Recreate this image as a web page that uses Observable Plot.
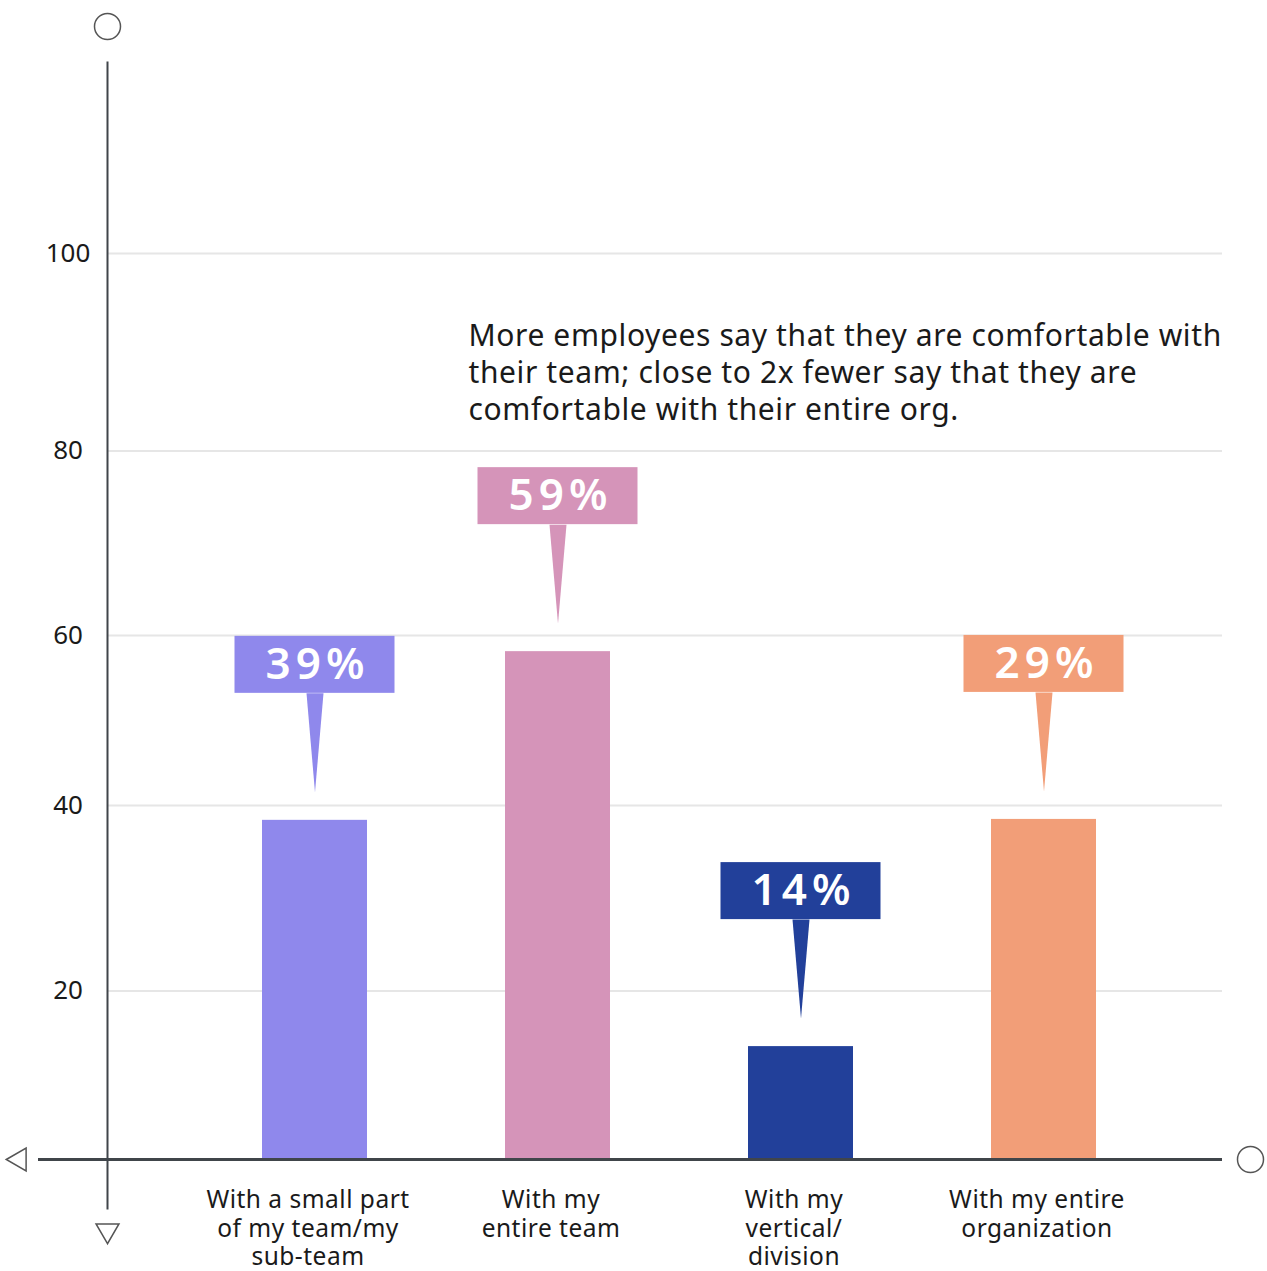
<!DOCTYPE html>
<html>
<head>
<meta charset="utf-8">
<script src="https://cdn.jsdelivr.net/npm/d3@7"></script>
<script src="https://cdn.jsdelivr.net/npm/@observablehq/plot@0.6"></script>
<style>
  html, body { margin: 0; padding: 0; background: #fff; }
</style>
</head>
<body>
<div id="chart"></div>
<script>
// ---- data ----
const categories = [
  "With a small part\nof my team/my\nsub-team",
  "With my\nentire team",
  "With my\nvertical/\ndivision",
  "With my entire\norganization"
];
const barValues = [38.4, 58.1, 13.4, 38.5];
const calloutLabels = ["39%", "59%", "14%", "29%"];
const barColors = ["#8f88ec", "#d594b9", "#22409a", "#f29e78"];
const yTicks = [20, 40, 60, 80, 100];
// uneven spacing of the value axis as drawn (distance above baseline for 0,20,...,100)
const axisStops = [0, 20, 40, 60, 80, 100];
const axisOffsets = [0, 168.5, 354, 524, 708.5, 906];
const annotation = "More employees say that they are comfortable with\ntheir team; close to 2x fewer say that they are\ncomfortable with their entire org.";

const data = categories.map((c, i) => ({cat: c, value: barValues[i], label: calloutLabels[i], color: barColors[i]}));

const warp = d3.scaleLinear().domain(axisStops).range(axisOffsets);

const axisColor = "#40454a";
const font = "'Noto Sans', sans-serif";

const chart = Plot.plot({
  width: 1267,
  height: 1271,
  marginLeft: 107,
  marginRight: 45,
  marginTop: 62,
  marginBottom: 63,
  style: {fontFamily: font, background: "#fff", color: "#1a1a1a"},
  x: {axis: null, domain: categories, range: [107, 1222], paddingInner: 0.5684, paddingOuter: 0.5756, align: 0.55},
  y: {axis: null, transform: warp, domain: [0, 906], range: [1159, 253]},
  color: {type: "identity"},
  marks: [
    // gridlines
    Plot.ruleY(yTicks, {stroke: "#e6e6e6", strokeWidth: 2}),
    // y tick labels (text mark #0)
    Plot.text(yTicks, {y: d => d, text: d => String(d), frameAnchor: "left", dx: -39.5, textAnchor: "middle", fontSize: 26, fill: "#1a1a1a"}),
    // bars
    Plot.barY(data, {x: "cat", y: "value", fill: "color"}),
    // callout boxes
    Plot.barY(data, {x: "cat", y1: "value", y2: "value", fill: "color", insetTop: -184, insetBottom: 127, insetLeft: -27.5, insetRight: -27.5}),
    // callout pointers
    Plot.vector(data, {x: "cat", y: "value", dy: -127, length: 99, rotate: 180, shape: "spike", r: 8.5, fill: "color", stroke: "none", anchor: "start"}),
    // callout labels (text mark #1)
    Plot.text(data, {x: "cat", y: "value", dy: -155.5, dx: 2.5, text: "label", fill: "#fff", fontSize: 44, fontWeight: 600}),
    // category labels (text mark #2)
    Plot.text(data, {x: "cat", y: () => 0, text: "cat", dy: 28, dx: -7, lineAnchor: "top", lineHeight: 1.17, fontSize: 24.5, fill: "#1a1a1a"}),
    // annotation (text mark #3)
    Plot.text([annotation], {frameAnchor: "top-left", text: d => d, dx: 361, dy: 257, textAnchor: "start", lineAnchor: "top", fontSize: 30, lineHeight: 1.235, fill: "#1a1a1a"}),
    // y axis line
    Plot.frame({anchor: "left", stroke: axisColor, strokeWidth: 2}),
    // x axis line
    Plot.ruleY([0], {stroke: axisColor, strokeWidth: 3, insetLeft: -69}),
    // axis end symbols
    Plot.dot([0], {frameAnchor: "top-left", dy: -36, r: 13, stroke: "#555", strokeWidth: 1.5, fill: "none"}),
    Plot.dot([0], {y: d => d, frameAnchor: "right", dx: 28, r: 13, stroke: "#555", strokeWidth: 1.5, fill: "none"}),
    Plot.dot([0], {y: d => d, frameAnchor: "left", dx: -88, symbol: "triangle", rotate: -90, r: 8.5, stroke: "#555", strokeWidth: 1.5, fill: "none"}),
    Plot.dot([0], {frameAnchor: "bottom-left", dy: 22, symbol: "triangle", rotate: 180, r: 8.5, stroke: "#555", strokeWidth: 1.5, fill: "none"})
  ]
});

// letter spacing for the text marks (in mark order)
const textGroups = chart.querySelectorAll('g[aria-label="text"]');
const spacing = ["0px", "5px", "0.5px", "0.6px"];
textGroups.forEach((g, i) => { if (spacing[i]) g.style.letterSpacing = spacing[i]; });

document.getElementById("chart").appendChild(chart);
</script>
</body>
</html>
